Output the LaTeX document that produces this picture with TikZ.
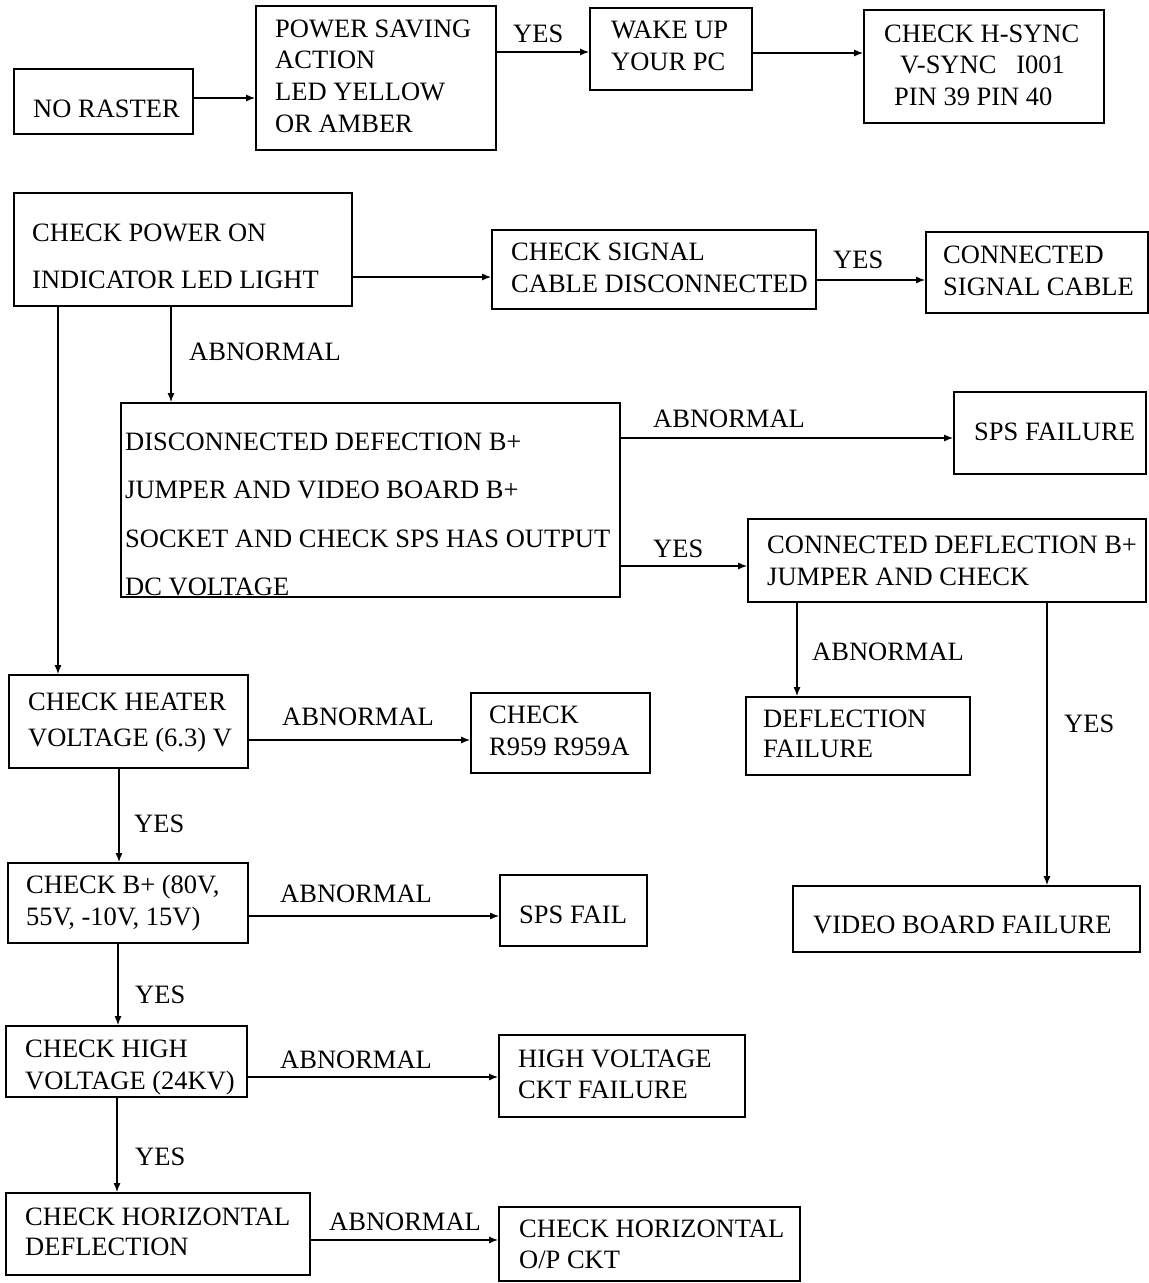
\documentclass[tikz,border=0pt]{standalone}
\usepackage{fontspec}
\setmainfont{Liberation Serif}
\usetikzlibrary{arrows.meta}
\tikzset{
  box/.style={draw, line width=1.6pt, inner sep=0pt, rectangle},
  txt/.style={anchor=base west, inner sep=0pt, font=\fontsize{26.5}{31}\selectfont},
  arr/.style={line width=1.5pt, -{Latex[length=9pt,width=7pt]}},
}
\newcommand\bx[5]{\node[box, minimum width={(#4-#2)*1pt}, minimum height={(#5-#3)*1pt}] (#1) at ({(#2+#4)/2},{(#3+#5)/2}) {};}
\newcommand\tl[4]{\node[txt] (#1) at (#2,#3) {#4};}
\begin{document}
\begin{tikzpicture}[x=1pt,y=-1pt]
\useasboundingbox (0,0) rectangle (1149,1283);
% ---- boxes ----
\bx{nr}{14}{69}{193}{134}
\bx{ps}{256}{6}{496}{150}
\bx{wk}{590}{8}{752}{90}
\bx{hs}{864}{10}{1104}{123}
\bx{pw}{14}{193}{352}{306}
\bx{cs}{492}{230}{816}{309}
\bx{cc}{926}{232}{1148}{313}
\bx{dc}{121}{403}{620}{597}
\bx{sf}{954}{392}{1146}{474}
\bx{cd}{748}{519}{1146}{602}
\bx{df}{746}{697}{970}{775}
\bx{vb}{793}{886}{1140}{952}
\bx{ht}{9}{675}{248}{768}
\bx{rc}{471}{693}{650}{773}
\bx{bp}{8}{863}{248}{943}
\bx{sp}{500}{875}{647}{946}
\bx{hv}{6}{1026}{247}{1097}
\bx{hc}{499}{1035}{745}{1117}
\bx{hd}{6}{1193}{310}{1275}
\bx{op}{499}{1207}{800}{1281}
% ---- box texts ----
\tl{nr1}{33}{117}{NO RASTER}
\tl{ps1}{275}{37}{POWER SAVING}
\tl{ps2}{275}{68}{ACTION}
\tl{ps3}{275}{100}{LED YELLOW}
\tl{ps4}{275}{132}{OR AMBER}
\tl{wk1}{611}{38}{WAKE UP}
\tl{wk2}{611}{70}{YOUR PC}
\tl{hs1}{884}{42}{CHECK H-SYNC}
\tl{hs2}{900}{73}{V-SYNC\hspace{20pt}I001}
\tl{hs3}{894}{105}{PIN 39 PIN 40}
\tl{pw1}{32}{241}{CHECK POWER ON}
\tl{pw2}{32}{288}{INDICATOR LED LIGHT}
\tl{cs1}{511}{260}{CHECK SIGNAL}
\tl{cs2}{511}{292}{CABLE DISCONNECTED}
\tl{cc1}{943}{263}{CONNECTED}
\tl{cc2}{943}{295}{SIGNAL CABLE}
\tl{dc1}{125}{450}{DISCONNECTED DEFECTION B+}
\tl{dc2}{125}{498}{JUMPER AND VIDEO BOARD B+}
\tl{dc3}{125}{547}{SOCKET AND CHECK SPS HAS OUTPUT}
\tl{dc4}{125}{595}{DC VOLTAGE}
\tl{sf1}{974}{440}{SPS FAILURE}
\tl{cd1}{767}{553}{CONNECTED DEFLECTION B+}
\tl{cd2}{767}{585}{JUMPER AND CHECK}
\tl{df1}{763}{727}{DEFLECTION}
\tl{df2}{763}{757}{FAILURE}
\tl{vb1}{813}{933}{VIDEO BOARD FAILURE}
\tl{ht1}{28}{710}{CHECK HEATER}
\tl{ht2}{28}{746}{VOLTAGE (6.3) V}
\tl{rc1}{489}{723}{CHECK}
\tl{rc2}{489}{755}{R959 R959A}
\tl{bp1}{26}{893}{CHECK B+ (80V,}
\tl{bp2}{26}{925}{55V, -10V, 15V)}
\tl{sp1}{519}{923}{SPS FAIL}
\tl{hv1}{25}{1057}{CHECK HIGH}
\tl{hv2}{25}{1089}{VOLTAGE (24KV)}
\tl{hc1}{518}{1067}{HIGH VOLTAGE}
\tl{hc2}{518}{1098}{CKT FAILURE}
\tl{hd1}{25}{1225}{CHECK HORIZONTAL}
\tl{hd2}{25}{1255}{DEFLECTION}
\tl{op1}{519}{1237}{CHECK HORIZONTAL}
\tl{op2}{519}{1268}{O/P CKT}
% ---- connectors ----
\draw[arr] ([yshift=3.5pt]nr.east) -- ([yshift=3.5pt]nr.east -| ps.west);
\draw[arr] ([yshift=26pt]ps.east) -- ([yshift=26pt]ps.east -| wk.west);
\draw[arr] ([yshift=-4pt]wk.east) -- ([yshift=-4pt]wk.east -| hs.west);
\draw[arr] ([yshift=-27.5pt]pw.east) -- ([yshift=-27.5pt]pw.east -| cs.west);
\draw[arr] ([yshift=-10.5pt]cs.east) -- ([yshift=-10.5pt]cs.east -| cc.west);
\draw[arr] ([xshift=-12pt]pw.south) -- ([xshift=-12pt]pw.south |- dc.north);
\draw[arr] ([xshift=-125pt]pw.south) -- ([xshift=-125pt]pw.south |- ht.north);
\draw[arr] ([yshift=62pt]dc.east) -- ([yshift=62pt]dc.east -| sf.west);
\draw[arr] ([yshift=-66pt]dc.east) -- ([yshift=-66pt]dc.east -| cd.west);
\draw[arr] ([xshift=-150pt]cd.south) -- ([xshift=-150pt]cd.south |- df.north);
\draw[arr] ([xshift=100pt]cd.south) -- ([xshift=100pt]cd.south |- vb.north);
\draw[arr] ([yshift=-18.5pt]ht.east) -- ([yshift=-18.5pt]ht.east -| rc.west);
\draw[arr] ([xshift=-9.5pt]ht.south) -- ([xshift=-9.5pt]ht.south |- bp.north);
\draw[arr] ([yshift=-13pt]bp.east) -- ([yshift=-13pt]bp.east -| sp.west);
\draw[arr] ([xshift=-10pt]bp.south) -- ([xshift=-10pt]bp.south |- hv.north);
\draw[arr] ([yshift=-15.5pt]hv.east) -- ([yshift=-15.5pt]hv.east -| hc.west);
\draw[arr] ([xshift=-9.5pt]hv.south) -- ([xshift=-9.5pt]hv.south |- hd.north);
\draw[arr] ([yshift=-6pt]hd.east) -- ([yshift=-6pt]hd.east -| op.west);
% ---- connector labels ----
\tl{l1}{513}{42}{YES}
\tl{l2}{833}{268}{YES}
\tl{l3}{189}{360}{ABNORMAL}
\tl{l4}{653}{427}{ABNORMAL}
\tl{l5}{653}{557}{YES}
\tl{l6}{812}{660}{ABNORMAL}
\tl{l7}{1064}{732}{YES}
\tl{l8}{282}{725}{ABNORMAL}
\tl{l9}{134}{832}{YES}
\tl{l10}{280}{902}{ABNORMAL}
\tl{l11}{135}{1003}{YES}
\tl{l12}{280}{1068}{ABNORMAL}
\tl{l13}{135}{1165}{YES}
\tl{l14}{329}{1230}{ABNORMAL}
\end{tikzpicture}
\end{document}
